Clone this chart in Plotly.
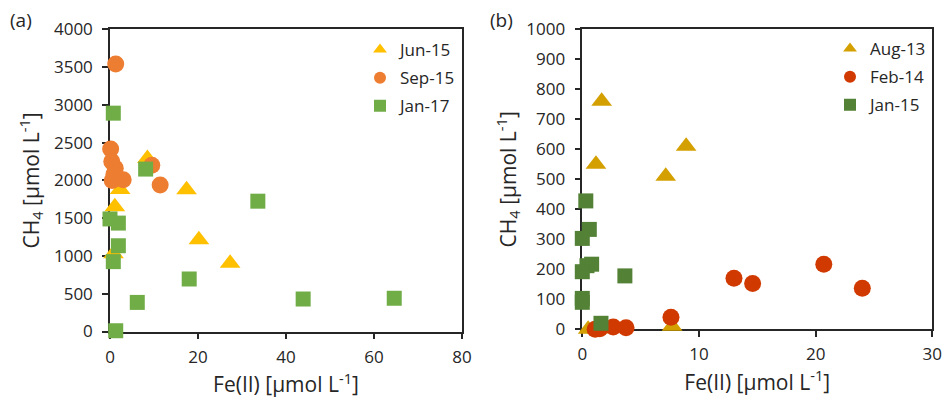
import plotly.graph_objects as go

# ---- Panel (a) data ----
jun15_x = [8.5, 17.4, 2.3, 1.1, 20.2, 27.3, 0.8]
jun15_y = [2290, 1875, 1880, 1650, 1215, 905, 1030]

sep15_x = [1.3, 0.15, 0.4, 1.2, 0.5, 3.0, 9.5, 11.4, 0.9]
sep15_y = [3540, 2415, 2250, 2160, 2000, 2010, 2200, 1940, 2080]

jan17_x = [0.75, 8.1, 33.6, 0.0, 1.9, 1.9, 0.75, 18.0, 6.2, 43.9, 64.6, 1.3]
jan17_y = [2890, 2150, 1725, 1490, 1435, 1135, 925, 695, 385, 430, 440, 10]

# ---- Panel (b) data ----
aug13_x = [1.66, 1.17, 7.15, 8.9, 0.5, 7.7, 1.3]
aug13_y = [760, 550, 510, 610, 0, 10, 0]

feb14_x = [13.0, 14.6, 20.7, 24.0, 7.6, 3.75, 2.65, 1.5, 1.1]
feb14_y = [170, 153, 217, 137, 40, 5, 8, 2, 0]

jan15_x = [0.3, 0.6, 0.0, 0.8, 0.4, 0.0, 3.65, 0.0, 0.0, 1.6]
jan15_y = [428, 333, 303, 217, 212, 192, 178, 103, 90, 20]

FONT = "Open Sans"
TXT = "#262626"

fig = go.Figure()

def add(x, y, name, color, symbol, size, xa, ya, legend, group):
    fig.add_trace(go.Scatter(
        x=x, y=y, mode="markers", name=name, xaxis=xa, yaxis=ya,
        legend=legend, legendgroup=group, cliponaxis=False,
        marker=dict(color=color, symbol=symbol, size=size, line=dict(width=0)),
    ))

add(jun15_x, jun15_y, "Jun-15", "#FFC000", "triangle-up", 18, "x", "y", "legend", "a1")
add(sep15_x, sep15_y, "Sep-15", "#ED7D31", "circle", 17, "x", "y", "legend", "a2")
add(jan17_x, jan17_y, "Jan-17", "#70AD47", "square", 15, "x", "y", "legend", "a3")

add(aug13_x, aug13_y, "Aug-13", "#D4A000", "triangle-up", 18, "x2", "y2", "legend2", "b1")
add(feb14_x, feb14_y, "Feb-14", "#D03A00", "circle", 17, "x2", "y2", "legend2", "b2")
add(jan15_x, jan15_y, "Jan-15", "#538135", "square", 15, "x2", "y2", "legend2", "b3")

axis_common = dict(
    showline=True, linecolor="#262626", linewidth=1.5, mirror=True,
    ticks="outside", ticklen=6, tickwidth=1.5, tickcolor="#262626",
    showgrid=False, zeroline=False, layer="below traces", automargin=False,
    tickfont=dict(family=FONT, size=17, color=TXT),
)

xtitle = "Fe(II) [μmol L<sup>-1</sup>]"
ytitle = "CH<sub>4</sub> [μmol L<sup>-1</sup>]"
tfont = dict(family=FONT, size=21, color=TXT)

fig.update_layout(
    width=950, height=400,
    margin=dict(l=0, r=0, t=0, b=0),
    paper_bgcolor="white", plot_bgcolor="white",
    showlegend=True,
    xaxis=dict(domain=[110/950, 462/950], range=[0, 80], dtick=20, anchor="y",
               ticklabelstandoff=3,
               title=dict(text=xtitle, font=tfont, standoff=0), **axis_common),
    yaxis=dict(domain=[1-331.5/400, 1-29.3/400], range=[0, 4000], dtick=500, anchor="x",
               ticklabelstandoff=6,
               title=dict(text=ytitle, font=tfont, standoff=9), **axis_common),
    xaxis2=dict(domain=[582.3/950, 932.3/950], range=[0, 30], dtick=10, anchor="y2",
                ticklabelstandoff=3,
                title=dict(text=xtitle, font=tfont, standoff=0), **axis_common),
    yaxis2=dict(domain=[1-329.3/400, 1-29.3/400], range=[0, 1000], dtick=100, anchor="x2",
                ticklabelstandoff=6,
                title=dict(text=ytitle, font=tfont, standoff=4), **axis_common),
    legend=dict(x=360/950, y=1-32/400, xanchor="left", yanchor="top",
                font=dict(family=FONT, size=17, color=TXT), itemsizing="constant",
                tracegroupgap=3, bgcolor="rgba(0,0,0,0)"),
    legend2=dict(x=830/950, y=1-31/400, xanchor="left", yanchor="top",
                 font=dict(family=FONT, size=17, color=TXT), itemsizing="constant",
                 tracegroupgap=3, bgcolor="rgba(0,0,0,0)"),
    annotations=[
        dict(text="(a)", x=8/950, y=1-20/400, xref="paper", yref="paper",
             xanchor="left", yanchor="middle", showarrow=False,
             font=dict(family=FONT, size=19, color=TXT)),
        dict(text="(b)", x=488/950, y=1-20/400, xref="paper", yref="paper",
             xanchor="left", yanchor="middle", showarrow=False,
             font=dict(family=FONT, size=19, color=TXT)),
    ],
)

fig.write_html("out.html", config={"displayModeBar": False},
               post_script="document.body.style.margin='0';")
